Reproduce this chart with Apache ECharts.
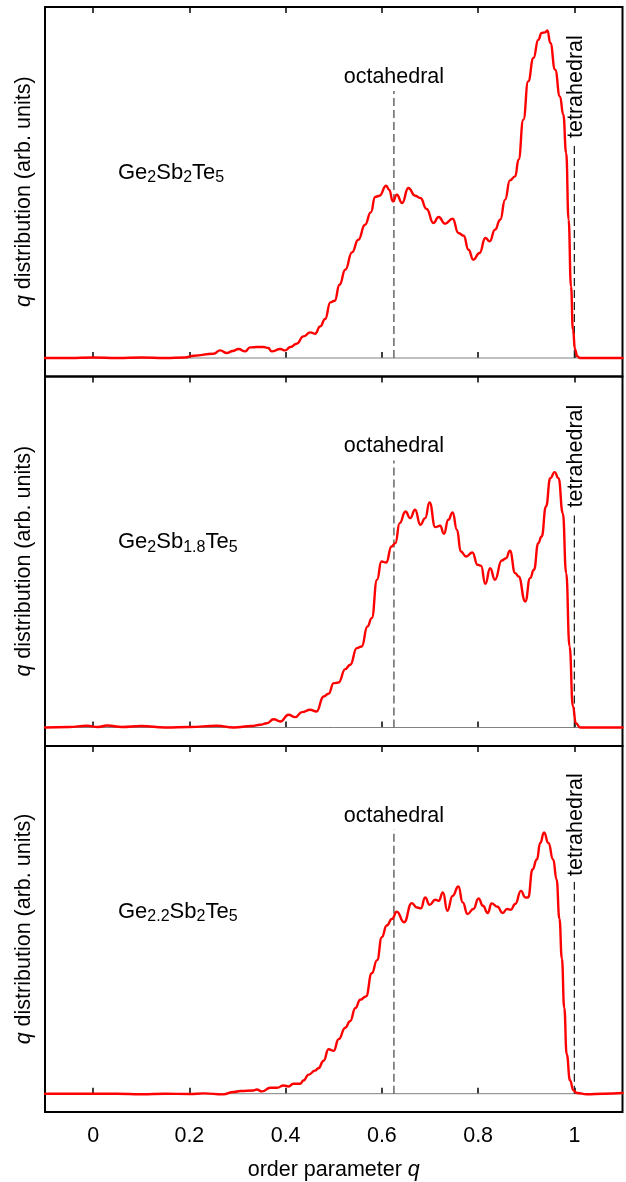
<!DOCTYPE html>
<html><head><meta charset="utf-8">
<script src="https://cdn.jsdelivr.net/npm/echarts@6/dist/echarts.min.js"></script>
<style>html,body{margin:0;padding:0;background:#fff}#c{width:626px;height:1182px}</style>
</head><body><div id="c"></div><script>
// x ticks
const xTicks = [0, 0.2, 0.4, 0.6, 0.8, 1];
// composition labels (rich text, s = subscript)
const compositions = ['Ge{s|2}Sb{s|2}Te{s|5}', 'Ge{s|2}Sb{s|1.8}Te{s|5}', 'Ge{s|2.2}Sb{s|2}Te{s|5}'];
// reference lines: position in q and height reached (arb. units)
const octahedralQ = 0.625, octahedralTop = 267;
const tetrahedralQ = 1.0, tetrahedralTop = 214;

// q distribution, Ge2Sb2Te5  [q, value]
const gst225 = [[-0.1,0],[-0.05,0],[0,0.5],[0.05,0],[0.1,0.5],[0.15,0],[0.19,0.5],[0.21,2.3],[0.25,4.3],[0.264,7.6],[0.278,5],[0.29,7],[0.302,9],[0.316,6.6],[0.326,10.6],[0.34,11],[0.354,11],[0.364,10],[0.371,6.6],[0.389,9],[0.399,7.6],[0.41,11],[0.423,14.3],[0.437,21.6],[0.451,25.6],[0.461,24.3],[0.472,31.6],[0.482,39],[0.493,55.6],[0.502,57.3],[0.512,73.3],[0.524,88.3],[0.538,105.6],[0.551,118.3],[0.565,133.3],[0.577,145.6],[0.586,161],[0.595,162.3],[0.609,172.3],[0.615,168.3],[0.623,156.6],[0.631,163.3],[0.642,155],[0.655,170],[0.669,162.3],[0.68,160],[0.693,149],[0.707,135],[0.718,141],[0.731,134.3],[0.747,139.3],[0.759,125],[0.77,122.3],[0.78,108.3],[0.79,98.3],[0.803,105],[0.815,120],[0.824,116.6],[0.835,128.3],[0.846,138.3],[0.856,158.3],[0.866,177.6],[0.877,181.6],[0.884,198.3],[0.894,238.3],[0.904,276.6],[0.915,300],[0.925,318.3],[0.932,325],[0.939,325.6],[0.944,327.6],[0.95,315],[0.96,288.3],[0.97,261.6],[0.977,243.3],[0.983,205],[0.988,138.3],[0.993,71.6],[0.997,28.3],[1.0015,8.3],[1.006,1.6],[1.012,0],[1.05,0],[1.1,0]];
// q distribution, Ge2Sb1.8Te5
const gs18t = [[-0.1,0],[-0.05,0.5],[-0.013,1.7],[0.01,0.5],[0.029,2],[0.06,0.5],[0.1,1.5],[0.15,0],[0.2,0.5],[0.257,1.7],[0.292,0],[0.33,1.5],[0.347,2.7],[0.361,4.3],[0.375,8.3],[0.389,6],[0.406,12.7],[0.42,10.4],[0.434,15.4],[0.451,17.7],[0.464,16],[0.479,31],[0.489,33.7],[0.5,44.4],[0.51,45],[0.524,58.4],[0.534,62.7],[0.548,79.4],[0.558,81],[0.57,101],[0.579,109.4],[0.59,147.7],[0.599,166],[0.609,165],[0.62,181],[0.628,184.4],[0.637,204.4],[0.649,216],[0.659,209.4],[0.669,217.7],[0.68,202.7],[0.69,209.4],[0.699,225],[0.711,200.4],[0.721,201.7],[0.729,193.7],[0.738,207.7],[0.747,215],[0.756,197.7],[0.764,176],[0.775,171],[0.788,175],[0.799,162.7],[0.806,161.7],[0.815,143.7],[0.825,159.3],[0.835,147.7],[0.849,167],[0.858,169.3],[0.866,176.7],[0.877,154.4],[0.884,151],[0.898,126],[0.908,149.4],[0.916,157.7],[0.925,184.4],[0.932,191],[0.941,221],[0.95,249.4],[0.959,255.4],[0.967,249.4],[0.976,214.4],[0.983,154.4],[0.99,81],[0.997,21],[1.003,4.4],[1.012,0],[1.05,0],[1.1,0]];
// q distribution, Ge2.2Sb2Te5
const g22st = [[-0.1,0],[-0.05,0],[0,0],[0.05,0],[0.1,-0.5],[0.15,0],[0.2,-0.3],[0.23,0.3],[0.27,-0.7],[0.292,1.7],[0.306,2.7],[0.333,3.3],[0.34,4.3],[0.351,2.3],[0.368,6],[0.382,6],[0.396,8.3],[0.406,7.3],[0.416,10],[0.43,10],[0.437,13.3],[0.448,19.3],[0.461,23.3],[0.468,25.7],[0.479,33.3],[0.489,45],[0.5,43.3],[0.51,55],[0.524,66.7],[0.534,73.3],[0.545,86.7],[0.555,95],[0.567,98.3],[0.579,121.7],[0.59,135],[0.6,158.3],[0.61,170],[0.621,176.7],[0.631,184],[0.646,173.3],[0.662,192.7],[0.673,188.3],[0.681,187.3],[0.69,198.3],[0.699,191],[0.711,196],[0.718,195],[0.727,203.4],[0.736,185],[0.747,200],[0.759,209.4],[0.768,193.4],[0.778,181.7],[0.79,186.7],[0.801,197.4],[0.81,190],[0.82,182.7],[0.828,192.4],[0.84,189],[0.851,182.7],[0.86,186.7],[0.868,186],[0.877,191.7],[0.889,205],[0.898,198.4],[0.904,198.4],[0.913,226.7],[0.922,236.7],[0.929,253.4],[0.937,264],[0.946,253.4],[0.956,236.7],[0.963,216.7],[0.969,176.7],[0.974,136.7],[0.979,86.7],[0.984,40],[0.991,13.4],[0.998,3.4],[1.005,0.7],[1.026,-0.6],[1.06,0],[1.1,0.7]];

const panels = [gst225, gs18t, g22st];
const gridTops = [7, 376.5, 746];
const gridHeights = [369.5, 369.5, 370];
const FONT = '"Liberation Sans", Arial, sans-serif';
const FS = 21.5;

const chart = echarts.init(document.getElementById('c'), null, {renderer: 'canvas'});
const grid = [], xAxis = [], yAxis = [], series = [];
panels.forEach((data, i) => {
  grid.push({left: 45, right: 3.5, top: gridTops[i], height: gridHeights[i], show: true,
    borderColor: '#000', borderWidth: 2, backgroundColor: 'transparent'});
  const tickCfg = {show: true, inside: true, length: 6, customValues: xTicks, lineStyle: {color: '#000', width: 1.5}};
  xAxis.push({type: 'value', gridIndex: i, position: 'bottom', min: -0.1, max: 1.1,
    axisLine: {show: false}, splitLine: {show: false}, axisTick: tickCfg,
    axisLabel: {show: i === 2, customValues: xTicks, margin: 13, color: '#000', fontSize: FS, fontFamily: FONT},
    name: i === 2 ? '{n|order parameter }{i|q}' : '', nameLocation: 'middle', nameGap: 47,
    nameTextStyle: {rich: {n: {fontSize: FS, fontFamily: FONT, color: '#000'}, i: {fontSize: FS, fontFamily: FONT, fontStyle: 'italic', color: '#000'}}}
  });
  xAxis.push({type: 'value', gridIndex: i, position: 'top', min: -0.1, max: 1.1,
    axisLine: {show: false}, splitLine: {show: false}, axisTick: tickCfg, axisLabel: {show: false}});
  yAxis.push({type: 'value', gridIndex: i, min: -18.5, max: gridHeights[i] - 18.5,
    axisLine: {show: false}, axisTick: {show: false}, axisLabel: {show: false}, splitLine: {show: false},
    name: '{i|q}{n| distribution (arb. units)}', nameLocation: 'middle', nameGap: 10, nameRotate: 90,
    nameTextStyle: {rich: {n: {fontSize: FS, fontFamily: FONT, color: '#000'}, i: {fontSize: FS, fontFamily: FONT, fontStyle: 'italic', color: '#000'}}}
  });
  // baseline
  series.push({type: 'line', xAxisIndex: 2 * i, yAxisIndex: i, data: [[-0.1, 0], [1.1, 0]], symbol: 'none',
    lineStyle: {color: '#808080', width: 1}, z: 1, silent: true});
  // octahedral reference
  series.push({type: 'line', xAxisIndex: 2 * i, yAxisIndex: i, data: [[octahedralQ, 0], [octahedralQ, octahedralTop]], symbol: 'none',
    lineStyle: {color: '#666', width: 1.5, type: [8, 4]}, z: 2, silent: true});
  // tetrahedral reference
  series.push({type: 'line', xAxisIndex: 2 * i, yAxisIndex: i, data: [[tetrahedralQ, 0], [tetrahedralQ, tetrahedralTop]], symbol: 'none',
    lineStyle: {color: '#222', width: 1.3, type: [8, 4]}, z: 2, silent: true});
  // distribution
  series.push({type: 'line', xAxisIndex: 2 * i, yAxisIndex: i, data: data, symbol: 'none', smooth: 0.5, smoothMonotone: 'x',
    lineStyle: {color: '#ff0000', width: 2.4, join: 'round', cap: 'round'}, z: 3, silent: true});
});

chart.setOption({animation: false, grid, xAxis, yAxis, series});

// annotations placed from data coordinates
const graphics = [];
panels.forEach((d, i) => {
  const oct = chart.convertToPixel({xAxisIndex: 2 * i, yAxisIndex: i}, [octahedralQ, octahedralTop]);
  const tet = chart.convertToPixel({xAxisIndex: 2 * i, yAxisIndex: i}, [tetrahedralQ, tetrahedralTop]);
  graphics.push({type: 'text', x: oct[0], y: oct[1] - 3, style: {text: 'octahedral', fill: '#000', font: FS + 'px ' + FONT, align: 'center', verticalAlign: 'bottom'}});
  graphics.push({type: 'text', x: tet[0] + 2, y: tet[1] - 6, rotation: Math.PI / 2, style: {text: 'tetrahedral', fill: '#000', font: FS + 'px ' + FONT, align: 'left', verticalAlign: 'middle'}});
  graphics.push({type: 'text', x: 118, y: gridTops[i] + 165.5, style: {text: compositions[i], fill: '#000', fontSize: 22, fontFamily: FONT,
    verticalAlign: 'middle', align: 'left',
    rich: {s: {fontSize: 16, fontFamily: FONT, fill: '#000', padding: [11, 0, 0, 0]}}}});
});
chart.setOption({graphic: graphics});
</script></body></html>
